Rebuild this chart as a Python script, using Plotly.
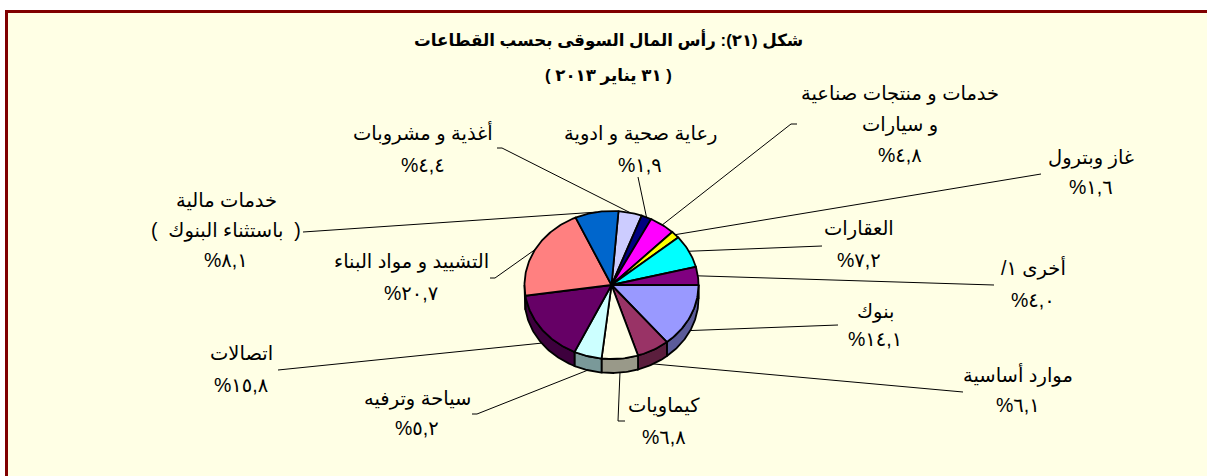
import math
import plotly.graph_objects as go

# clockwise from the top of the pie
sectors = [
    ["أغذية و مشروبات"], ["رعاية صحية و ادوية"], ["خدمات و منتجات صناعية", "و سيارات"], ["غاز وبترول"],
    ["العقارات"], ["\u200fأخرى ١/\u200f"], ["بنوك"], ["موارد أساسية"], ["كيماويات"],
    ["سياحة وترفيه"], ["اتصالات"], ["التشييد و مواد البناء"], ["خدمات مالية", "(\u00a0 باستثناء البنوك \u00a0)"],
]
shares = [4.4, 1.9, 4.8, 1.6, 7.2, 4.0, 14.1, 6.1, 6.8, 5.2, 15.8, 20.7, 8.1]
share_labels = ["%٤,٤", "%١,٩", "%٤,٨", "%١,٦", "%٧,٢", "%٤,٠", "%١٤,١", "%٦,١", "%٦,٨", "%٥,٢", "%١٥,٨", "%٢٠,٧", "%٨,١"]
colors = [
    "#CCCCFF", "#000080", "#FF00FF", "#FFFF00", "#00FFFF", "#800080", "#9999FF",
    "#993366", "#FFFFE5", "#CCFFFF", "#660066", "#FF8080", "#0066CC",
]
title_lines = ["شكل (٢١): رأس المال السوقى بحسب القطاعات", "( ٣١ يناير ٢٠١٣ )"]

# label centres, line gaps, leader knees and their short horizontal ticks, in page pixels
label_pos = [
    (423, 149), (640, 149), (900, 124), (1091, 172), (859, 244), (1033, 284), (875, 325),
    (1018, 390), (664, 421), (417, 413), (241, 369), (411, 277), (226, 230),
]
label_gaps = [32, 32, 31, 29, 32, 32, 28, 30, 32, 30, 32, 31, 30]
leader_knees = [
    (502, 148), (638, 177), (791, 124), (1041, 174), (822, 246), (994, 285), (838, 325),
    (963, 392), (618, 421), (477, 414), (278, 370), (495, 278), (303, 232),
]
leader_ticks = [-5, 0, 6, 0, 0, 0, 0, 0, 7, -5, 0, -5, 0]

CX, CY, RX, RY, DEPTH = 611.5, 285, 87, 74, 14
START = 4.6
PANEL = "#FFFFE5"
BORDER = "#800000"
FONT = "Liberation Sans, DejaVu Sans, sans-serif"


def shade(hex_color, k=0.6):
    r, g, b = (int(hex_color[i:i + 2], 16) for i in (1, 3, 5))
    return f"rgb({int(r * k)},{int(g * k)},{int(b * k)})"


def edge(angle, drop=0):
    rad = math.radians(angle)
    return CX + RX * math.sin(rad), CY - RY * math.cos(rad) + drop


def arc(a0, a1, drop=0):
    steps = max(2, int(abs(a1 - a0)) + 1)
    return [edge(a0 + (a1 - a0) * i / steps, drop) for i in range(steps + 1)]


def polygon(points, fill):
    return go.Scatter(
        x=[p[0] for p in points], y=[p[1] for p in points], mode="lines", fill="toself",
        fillcolor=fill, line=dict(color="black", width=1.8), hoverinfo="skip", showlegend=False,
    )


total = sum(shares)
angles = [START]
for s in shares:
    angles.append(angles[-1] + s / total * 360)

fig = go.Figure()

# leader lines go under the pie
for i, (knee_x, knee_y) in enumerate(leader_knees):
    mid = (angles[i] + angles[i + 1]) / 2
    near = edge(mid, DEPTH if 100 < mid % 360 < 260 else 0)
    fig.add_trace(go.Scatter(
        x=[knee_x + leader_ticks[i], knee_x, near[0]], y=[knee_y, knee_y, near[1]], mode="lines",
        line=dict(color="black", width=1), hoverinfo="skip", showlegend=False,
    ))

# side wall, only the part of each slice on the front half
for i, color in enumerate(colors):
    a0 = max(angles[i], 90)
    a1 = min(angles[i + 1], 270)
    if a0 < a1:
        fig.add_trace(polygon(arc(a0, a1) + arc(a1, a0, DEPTH) + [edge(a0)], shade(color)))

# top face
for i, color in enumerate(colors):
    fig.add_trace(polygon([(CX, CY)] + arc(angles[i], angles[i + 1]) + [(CX, CY)], color))

for i, name_lines in enumerate(sectors):
    lines = name_lines + [share_labels[i]]
    top = label_pos[i][1] - label_gaps[i] * (len(lines) - 1) / 2
    for k, text in enumerate(lines):
        fig.add_annotation(
            x=label_pos[i][0], y=top + k * label_gaps[i], text=text,
            showarrow=False, font=dict(family=FONT, size=19.5, color="black"),
        )

for text, y in zip(title_lines, [40, 76]):
    fig.add_annotation(
        x=608, y=y, text="<b>" + text + "</b>",
        showarrow=False, font=dict(family=FONT, size=16.7, color="black"),
    )

fig.update_layout(
    width=1207, height=476, margin=dict(l=0, r=0, t=0, b=0),
    paper_bgcolor="white", plot_bgcolor="white", showlegend=False,
    xaxis=dict(range=[0, 1207], visible=False, fixedrange=True),
    yaxis=dict(range=[476, 0], visible=False, fixedrange=True),
    shapes=[dict(
        type="rect", xref="x", yref="y", x0=6.5, y0=11.5, x1=1220, y1=490,
        fillcolor=PANEL, line=dict(color=BORDER, width=3), layer="below",
    )],
)

fig.write_html(
    "out.html",
    config=dict(displayModeBar=False),
    post_script="document.body.style.margin='0';document.body.style.overflow='hidden';",
)
